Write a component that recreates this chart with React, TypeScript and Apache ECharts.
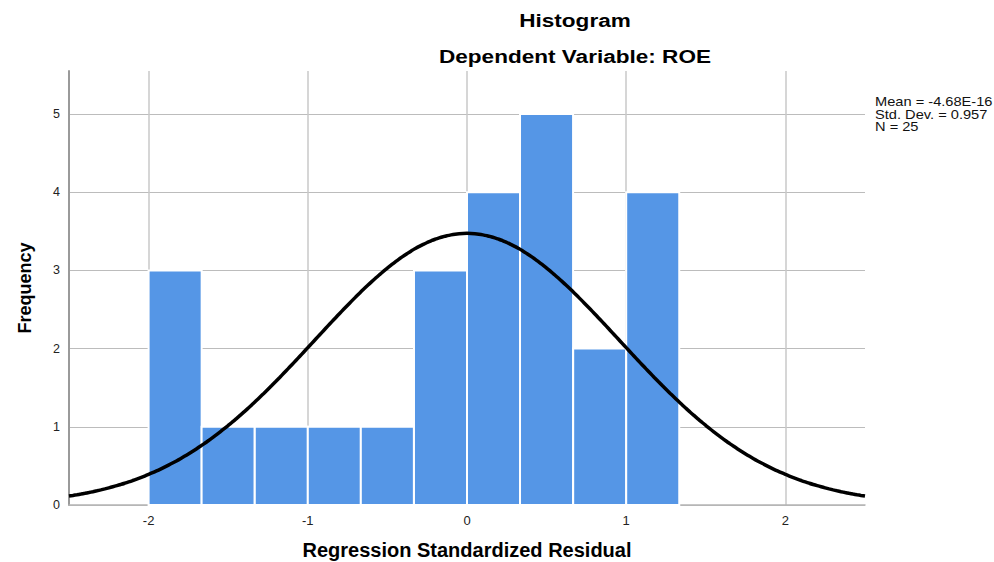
import React, { useEffect, useRef } from "react";
import * as echarts from "echarts";

const binStarts = [-2.0, -1.667, -1.333, -1.0, -0.667, -0.333, 0.0, 0.333, 0.667, 1.0];
const binWidth = 0.3333;
const counts = [3, 1, 1, 1, 1, 3, 4, 5, 2, 4];
const statMean = -4.68e-16;
const statSd = 0.957;
const statN = 25;
const xTickLabels = ["-2", "-1", "0", "1", "2"];
const yTickLabels = ["0", "1", "2", "3", "4", "5"];
const titleLines = ["Histogram", "Dependent Variable: ROE"];
const statLines = ["Mean = -4.68E-16", "Std. Dev. = 0.957", "N = 25"];

const FONT = "Liberation Sans, Arial, sans-serif";

export default function App() {
  const ref = useRef<HTMLDivElement>(null);
  useEffect(() => {
    if (!ref.current) return;
    document.body.style.margin = "0";
    const chart = echarts.init(ref.current, undefined, { renderer: "svg" });

    const barData = binStarts.map((s, i) => [s, s + binWidth, counts[i]]);
    const curve: number[][] = [];
    for (let k = 0; k <= 200; k++) {
      const x = -2.5 + (5 * k) / 200;
      const z = (x - statMean) / statSd;
      const y = (statN * binWidth * Math.exp(-0.5 * z * z)) / (statSd * Math.sqrt(2 * Math.PI));
      curve.push([x, y]);
    }

    const titleGraphics = titleLines.map((t, i) => ({
      type: "text",
      x: 575,
      y: 20 + i * 36,
      scaleX: 1.22,
      style: {
        text: t,
        fontFamily: FONT,
        fontSize: 18.5,
        fontWeight: "bold",
        fill: "#000",
        textAlign: "center",
        textVerticalAlign: "middle",
      },
    }));
    const statGraphics = statLines.map((t, i) => ({
      type: "text",
      x: 875,
      y: 102 + i * 12.5,
      scaleX: 1.22,
      style: {
        text: t,
        fontFamily: FONT,
        fontSize: 12,
        fill: "#111",
        textAlign: "left",
        textVerticalAlign: "middle",
      },
    }));

    chart.setOption({
      animation: false,
      backgroundColor: "#ffffff",
      grid: { left: 69, right: 129, top: 71, bottom: 57, containLabel: false, outerBoundsMode: "none" },
      xAxis: {
        type: "value",
        min: -2.5,
        max: 2.5,
        interval: 0.5,
        name: "Regression Standardized Residual",
        nameLocation: "middle",
        nameGap: 35,
        nameTextStyle: { fontFamily: FONT, fontSize: 20, fontWeight: "bold", color: "#000" },
        axisLine: { show: true, lineStyle: { color: "#b4b4b4", width: 1.5 } },
        axisTick: { show: false },
        axisLabel: {
          fontFamily: FONT,
          fontSize: 13,
          color: "#222",
          margin: 9,
          formatter: (v: number) => {
            const idx = xTickLabels.indexOf(String(Math.round(v)));
            return Math.abs(v - Math.round(v)) < 1e-6 && idx >= 0 ? xTickLabels[idx] : "";
          },
        },
        splitLine: {
          show: true,
          showMinLine: false,
          showMaxLine: false,
          lineStyle: { color: ["#c8c8c8", "transparent"], width: 1.5 },
        },
      },
      yAxis: {
        type: "value",
        min: 0,
        max: 5.55,
        interval: 1,
        name: "Frequency",
        nameLocation: "middle",
        nameGap: 35,
        nameTextStyle: { fontFamily: FONT, fontSize: 18, fontWeight: "bold", color: "#000" },
        axisLine: { show: true, onZero: false, lineStyle: { color: "#9a9a9a", width: 2 } },
        axisTick: { show: false },
        axisLabel: {
          fontFamily: FONT,
          fontSize: 12.5,
          color: "#222",
          margin: 9,
          formatter: (v: number) => {
            const idx = Math.round(v);
            return Math.abs(v - idx) < 1e-6 && yTickLabels[idx] ? yTickLabels[idx] : "";
          },
        },
        splitLine: {
          show: true,
          showMaxLine: false,
          lineStyle: { color: "#bcbcbc", width: 1.2 },
        },
      },
      series: [
        {
          type: "custom",
          data: barData,
          encode: { x: [0, 1], y: 2 },
          renderItem: (params: any, api: any) => {
            const p0 = api.coord([api.value(0), 0]);
            const p1 = api.coord([api.value(1), api.value(2)]);
            return {
              type: "rect",
              shape: { x: p0[0], y: p1[1], width: p1[0] - p0[0], height: p0[1] - p1[1] },
              style: { fill: "#5596e6", stroke: "#ffffff", lineWidth: 2 },
            };
          },
          z: 2,
        },
        {
          type: "line",
          data: curve,
          showSymbol: false,
          symbol: "none",
          smooth: true,
          lineStyle: { color: "#000", width: 3.5 },
          z: 3,
        },
      ],
      graphic: [...titleGraphics, ...statGraphics],
    });
    return () => chart.dispose();
  }, []);
  return <div ref={ref} style={{ width: 994, height: 562 }} />;
}
